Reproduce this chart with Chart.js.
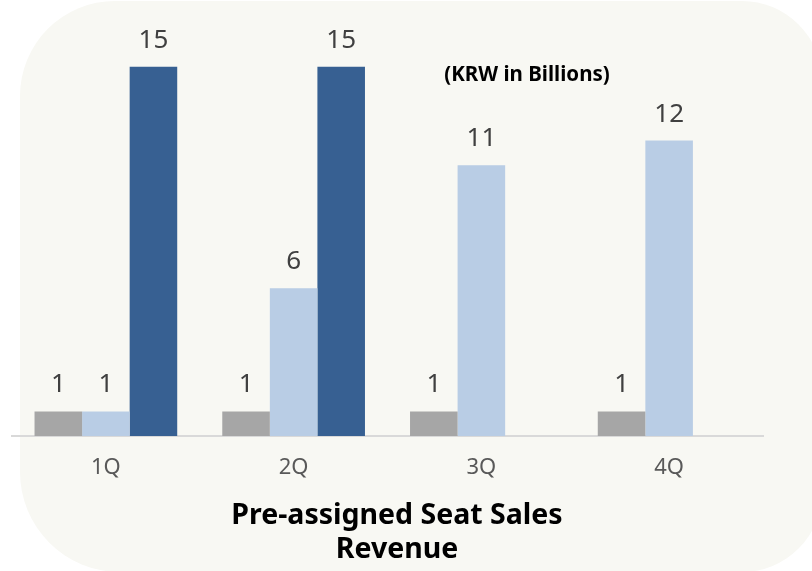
<!DOCTYPE html>
<html lang="en">
<head>
    <meta charset="UTF-8">
    <title>Pre-assigned Seat Sales Revenue</title>
    <style>
        html, body { margin: 0; padding: 0; background: #ffffff; }
        #chart-container { width: 812px; height: 571px; }
    </style>
</head>
<body>
    <div id="chart-container">
        <canvas id="myChart"></canvas>
    </div>

    <script src="https://cdn.jsdelivr.net/npm/chart.js"></script>
    <script>
        const quarters = ['1Q', '2Q', '3Q', '4Q'];
        const seriesGray = [1, 1, 1, 1];
        const seriesLight = [1, 6, 11, 12];
        const seriesDark = [15, 15, null, null];
        const unitNote = '(KRW in Billions)';
        const titleLines = ['Pre-assigned Seat Sales', 'Revenue'];

        const fontFamily = '"Noto Sans", "Open Sans", sans-serif';

        // rounded cream panel behind everything
        const panelPlugin = {
            id: 'panel',
            beforeDraw(chart) {
                const c = chart.ctx;
                c.save();
                c.fillStyle = '#f8f8f3';
                c.beginPath();
                c.roundRect(20, 1, 802, 571, [95, 80, 80, 100]);
                c.fill();
                c.restore();
            }
        };

        // value labels over bars, unit note, bottom title
        const labelPlugin = {
            id: 'labels',
            afterDatasetsDraw(chart) {
                const c = chart.ctx;
                c.save();
                c.font = '26px ' + fontFamily;
                c.fillStyle = '#404040';
                c.textAlign = 'center';
                c.textBaseline = 'alphabetic';
                chart.data.datasets.forEach((ds, i) => {
                    const meta = chart.getDatasetMeta(i);
                    meta.data.forEach((bar, j) => {
                        const v = ds.data[j];
                        if (v === null || v === undefined) return;
                        c.fillText(String(v), bar.x, bar.y - 19);
                    });
                });

                c.fillStyle = '#000000';
                c.font = 'bold 20.5px ' + fontFamily;
                c.fillText(unitNote, 527, 81);

                c.font = 'bold 28.5px ' + fontFamily;
                c.fillText(titleLines[0], 397, 524);
                c.fillText(titleLines[1], 397, 558);
                c.restore();
            }
        };

        const ctx = document.getElementById('myChart').getContext('2d');
        const myChart = new Chart(ctx, {
            type: 'bar',
            data: {
                labels: quarters,
                datasets: [
                    { label: 'A', data: seriesGray, backgroundColor: '#a6a6a6' },
                    { label: 'B', data: seriesLight, backgroundColor: '#b9cde5' },
                    { label: 'C', data: seriesDark, backgroundColor: '#376092' }
                ]
            },
            options: {
                responsive: true,
                maintainAspectRatio: false,
                animation: false,
                layout: { padding: { top: 42, right: 49, bottom: 0, left: 12 } },
                plugins: {
                    legend: { display: false },
                    tooltip: { enabled: false }
                },
                datasets: {
                    bar: { categoryPercentage: 0.76, barPercentage: 1.0 }
                },
                scales: {
                    x: {
                        grid: { display: false, drawTicks: false },
                        border: { display: true, color: '#d9d9d9', width: 2 },
                        ticks: {
                            color: '#595959',
                            padding: 19,
                            font: { family: fontFamily, size: 22 }
                        },
                        afterFit(scale) { scale.height = 135; }
                    },
                    y: {
                        display: false,
                        min: 0,
                        max: 16
                    }
                }
            },
            plugins: [panelPlugin, labelPlugin]
        });
    </script>
</body>
</html>
